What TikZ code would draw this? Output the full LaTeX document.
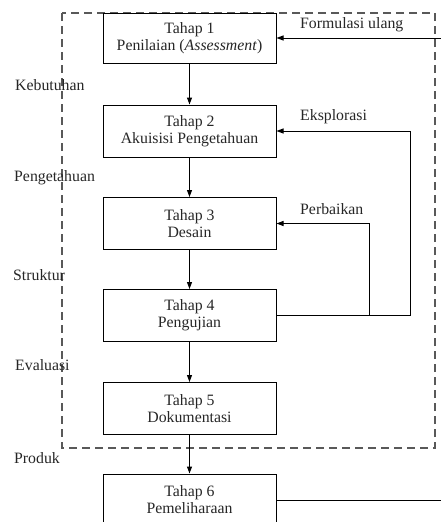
\documentclass[tikz,border=0pt]{standalone}
\usepackage{fontspec}
\setmainfont{Liberation Serif}
\usetikzlibrary{arrows.meta}
\begin{document}
\begin{tikzpicture}[x=1pt,y=-1pt,
 stage/.style={draw, line width=1pt, minimum width=173pt, minimum height=52pt, align=center, font=\fontsize{15.8}{17}\selectfont, inner sep=0pt, text=black!85},
 lbl/.style={anchor=west, font=\fontsize{15.8}{17}\selectfont, inner sep=0pt, text=black!85},
 arr/.style={line width=1pt, -{Triangle[length=7pt,width=5pt]}},
 ln/.style={line width=1pt}]
\useasboundingbox (0,0) rectangle (441,522);
\clip (0,0) rectangle (441,522);
\draw[dash pattern=on 8pt off 5pt, line width=1.1pt, black!65] (62,13) rectangle (435,448);
\node[stage, minimum height=50pt] (t1) at (189.5,38) {Tahap 1\\Penilaian (\textit{Assessment})};
\node[stage] (t2) at (189.5,131) {Tahap 2\\Akuisisi Pengetahuan};
\node[stage] (t3) at (189.5,223.5) {Tahap 3\\Desain};
\node[stage] (t4) at (189.5,315.5) {Tahap 4\\Pengujian};
\node[stage] (t5) at (189.5,408.5) {Tahap 5\\Dokumentasi};
\node[stage] (t6) at (189.5,500) {Tahap 6\\Pemeliharaan};
\draw[arr] (t1) -- (t2);
\draw[arr] (t2) -- (t3);
\draw[arr] (t3) -- (t4);
\draw[arr] (t4) -- (t5);
\draw[arr] (t5) -- (t6);
\coordinate (fr) at (441,38);
\coordinate (pe) at (441,500);
\draw[arr] (fr) -- (t1.east);
\draw[arr] (t4.east) -- ++(134,0) |- (t2.east);
\draw[arr] ([xshift=93pt]t4.east) |- (t3.east);
\draw[ln] (t6.east) -- (pe);
\node[lbl] (lf) at (300,25) {Formulasi ulang};
\node[lbl] (le) at (300,117) {Eksplorasi};
\node[lbl] (lp) at (300,209) {Perbaikan};
\node[lbl] (k1) at (15,85) {Kebutuhan};
\node[lbl] (k2) at (14,178) {Pengetahuan};
\node[lbl] (k3) at (13,275) {Struktur};
\node[lbl] (k4) at (15,365) {Evaluasi};
\node[lbl] (k5) at (14,458) {Produk};
\end{tikzpicture}
\end{document}
